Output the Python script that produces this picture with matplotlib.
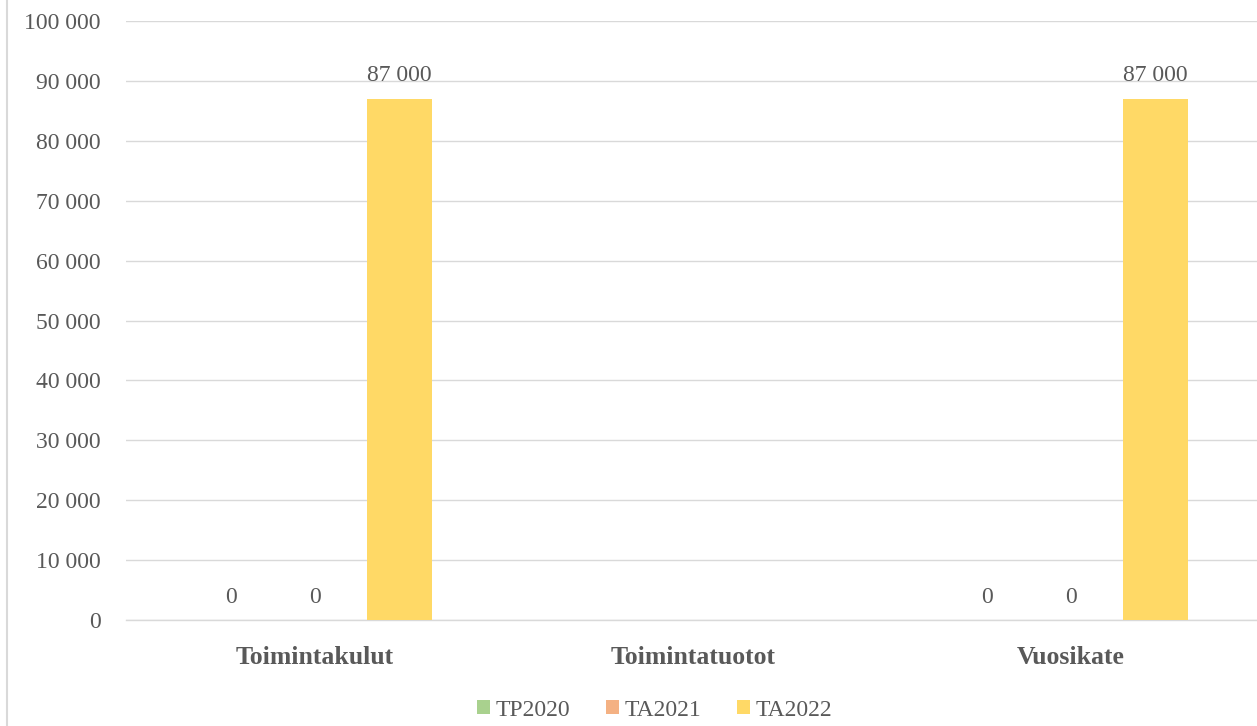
import numpy as np
import matplotlib
matplotlib.use("Agg")
import matplotlib.pyplot as plt
from matplotlib.lines import Line2D
from matplotlib.patches import Patch

categories = ["Toimintakulut", "Toimintatuotot", "Vuosikate"]
series_names = ["TP2020", "TA2021", "TA2022"]
tp2020 = [0, np.nan, 0]
ta2021 = [0, np.nan, 0]
ta2022 = [87000, np.nan, 87000]
yticks = list(range(0, 100001, 10000))

colors = ["#A9D18E", "#F4B183", "#FFD966"]
text_color = "#595959"

plt.rcParams['font.family'] = ['Liberation Serif', 'DejaVu Serif']

fig = plt.figure(figsize=(12.57, 7.26), dpi=100)
ax = fig.add_axes([0.1002, 0.146, 0.9021, 0.825])

x = np.arange(len(categories))
offsets = [-0.223, 0.0, 0.223]
width = 0.172
for vals, off, c in zip([tp2020, ta2021, ta2022], offsets, colors):
    bars = ax.bar(x + off, np.nan_to_num(vals), width, color=c, zorder=3)
    for xi, v in zip(x, vals):
        if not np.isnan(v):
            lab = f"{int(v):,}".replace(",", " ")
            ax.annotate(lab, (xi + off, v), xytext=(0, 9), textcoords="offset points",
                        ha="center", va="bottom", fontsize=17, color=text_color)

ax.set_xlim(-0.5, 2.5)
ax.set_ylim(0, 100000)
ax.set_yticks(yticks)
ax.set_yticklabels([f"{t:,}".replace(",", " ") for t in yticks], fontsize=17, color=text_color)
ax.set_xticks(x)
ax.set_xticklabels(categories, fontsize=18.5, fontweight="bold", color=text_color)
ax.tick_params(axis="both", length=0)
ax.tick_params(axis="y", pad=18)
ax.tick_params(axis="x", pad=19)
ax.grid(axis="y", color="#D9D9D9", linewidth=1, zorder=0)
for s in ["left", "right", "top"]:
    ax.spines[s].set_visible(False)
ax.spines["bottom"].set_color("#D9D9D9")
ax.spines["bottom"].set_linewidth(1)

handles = [Patch(facecolor=c, edgecolor="none") for c in colors]
leg = fig.legend(handles, series_names, loc="center", bbox_to_anchor=(0.521, 0.022),
                 ncol=3, frameon=False, fontsize=17, handlelength=0.55, handleheight=0.55,
                 handletextpad=0.25, columnspacing=1.5)
for t in leg.get_texts():
    t.set_color(text_color)

fig.add_artist(Line2D([7/1257, 7/1257], [0, 1], color="#D9D9D9", linewidth=1.5,
                      transform=fig.transFigure))

fig.savefig("out.png", dpi=100, facecolor="white")
